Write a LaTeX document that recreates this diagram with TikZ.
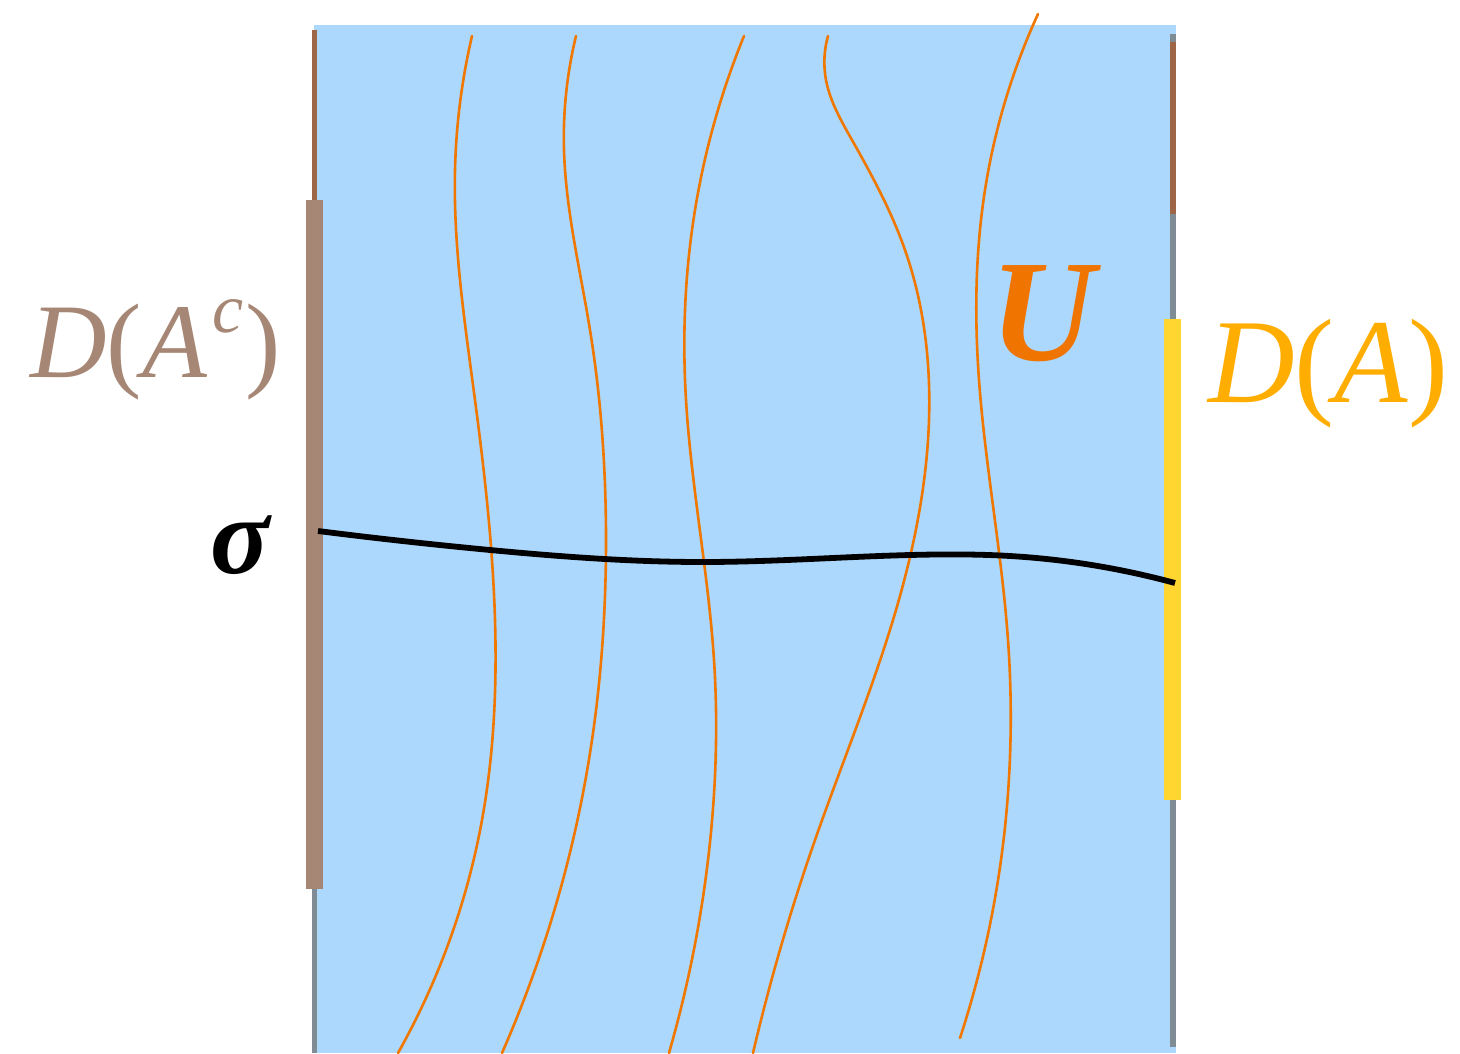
\documentclass[tikz,border=0pt]{standalone}
\usepackage{fontspec}
\setmainfont{Liberation Serif}
\usetikzlibrary{hobby}
\definecolor{bgblue}{RGB}{172,216,253}
\definecolor{darkbrown}{RGB}{156,102,71}
\definecolor{lightbrown}{RGB}{166,135,117}
\definecolor{edgegray}{RGB}{128,140,148}
\definecolor{baryellow}{RGB}{254,214,47}
\definecolor{curveorange}{RGB}{240,120,0}
\definecolor{uorange}{RGB}{240,116,0}
\definecolor{labelorange}{RGB}{255,173,0}
\tikzset{
  flowline/.style={curveorange, line width=2.6pt, line cap=round},
  sigmaline/.style={black, line width=5.8pt},
  lbl/.style={inner sep=0pt, anchor=base west}
}
\begin{document}
\begin{tikzpicture}[x=1pt,y=-1pt]
\useasboundingbox (0,0) rectangle (1460,1053);
% region
\fill[bgblue] (314,25) rectangle (1176,1053);
% left edge
\draw[darkbrown, line width=5pt] (314.5,30) -- (314.5,201);
\draw[edgegray, line width=5pt] (314.5,889) -- (314.5,1053);
\fill[lightbrown] (306,200) rectangle (323,889);
% right edge
\draw[edgegray, line width=5.5pt] (1173,34) -- (1173,1047);
\draw[darkbrown, line width=5.5pt] (1173,42) -- (1173,214);
\fill[baryellow] (1164,319) rectangle (1181,800);
% flow lines
\draw[flowline] (472,36) to[curve through={(455,170) (475,400) (495,620) (482,820)}] (398,1053);
\draw[flowline] (576,36) to[curve through={(564,150) (590,330) (606,540) (592,740)}] (502,1053);
\draw[flowline] (744,36) to[curve through={(692,230) (686,400) (714,660) (708,860)}] (669,1053);
\draw[flowline] (828,36) to[curve through={(826,80) (852,140) (905,250) (929,420) (893,620) (815,840)}] (753,1053);
\draw[flowline] (1038,14) to[curve through={(985,190) (979,380) (1008,640) (1001,860)}] (960,1038);
% sigma slice
\draw[sigmaline] (318,531) to[curve through={(490,550) (705,562) (910,555) (1010,556)}] (1175,583);
% labels
\node[lbl, text=lightbrown, font=\fontsize{106}{110}\selectfont] (dac) at (30,377) {\textit{D}(\textit{A}\kern5pt\raisebox{0.42em}{\fontsize{70}{72}\selectfont\textit{c}}\kern2pt)};
\node[lbl, text=labelorange, font=\fontsize{120}{124}\selectfont] (da) at (1208,402) {\textit{D}(\textit{A})};
\node[lbl, text=uorange, font=\fontsize{145}{150}\selectfont\bfseries\itshape] (u) at (990,360) {U};
\node[lbl, text=black, font=\fontsize{110}{114}\selectfont\bfseries\itshape] (sigma) at (210,573) {σ};
\end{tikzpicture}
\end{document}
